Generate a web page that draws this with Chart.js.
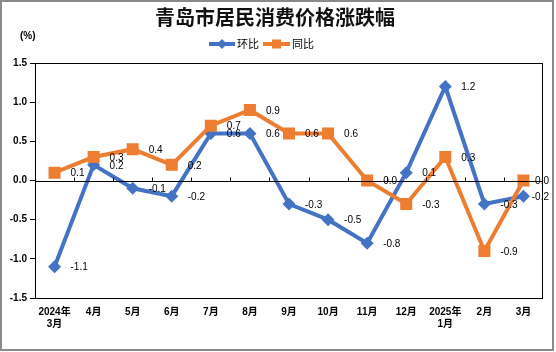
<!DOCTYPE html>
<html><head><meta charset="utf-8">
<script src="https://cdn.jsdelivr.net/npm/chart.js@4"></script>
<style>html,body{margin:0;padding:0;background:#fff}#wrap{width:556px;height:352px;position:relative}</style>
</head><body><div id="wrap"><canvas id="c" width="556" height="352"></canvas></div>
<script>
const categories = [['2024年','3月'],'4月','5月','6月','7月','8月','9月','10月','11月','12月',['2025年','1月'],'2月','3月'];
const momValues = [-1.1,0.2,-0.1,-0.2,0.6,0.6,-0.3,-0.5,-0.8,0.1,1.2,-0.3,-0.2];
const yoyValues = [0.1,0.3,0.4,0.2,0.7,0.9,0.6,0.6,0.0,-0.3,0.3,-0.9,0.0];
const yTicks = [-1.5,-1.0,-0.5,0,0.5,1.0,1.5];
const seriesNames = ['环比','同比'];
const titleText = '青岛市居民消费价格涨跌幅';
const unitText = '(%)';

const BLUE = '#4472C4', ORANGE = '#ED7D31';
const FONT = "'Liberation Sans', 'Noto Sans CJK SC', sans-serif";

const decor = {
  id: 'decor',
  beforeDraw(chart) {
    const ctx = chart.ctx;
    ctx.save();
    ctx.fillStyle = '#fff';
    ctx.fillRect(0, 0, chart.width, chart.height);
    ctx.restore();
  },
  afterDraw(chart) {
    const ctx = chart.ctx, a = chart.chartArea;
    const xs = chart.scales.x, ys = chart.scales.y;
    ctx.save();
    // plot box
    ctx.strokeStyle = '#000'; ctx.lineWidth = 1;
    ctx.strokeRect(Math.round(a.left) + 0.5, Math.round(a.top) + 0.5, Math.round(a.right - a.left) - 1, Math.round(a.bottom - a.top));
    // zero line + ticks
    const y0 = Math.round(ys.getPixelForValue(0)) + 0.5;
    ctx.beginPath();
    ctx.moveTo(a.left, y0); ctx.lineTo(a.right, y0);
    for (let i = 0; i < categories.length - 1; i++) {
      const bx = Math.round((xs.getPixelForValue(i) + xs.getPixelForValue(i + 1)) / 2) + 0.5;
      ctx.moveTo(bx, y0); ctx.lineTo(bx, y0 - 4);
    }
    ctx.stroke();
    // title
    ctx.fillStyle = '#111';
    ctx.font = "bold 20px 'Noto Sans CJK SC', sans-serif";
    ctx.textAlign = 'center'; ctx.textBaseline = 'middle';
    ctx.fillText(titleText, 275, 17);
    // unit
    ctx.font = "bold 10px " + FONT;
    ctx.textAlign = 'left';
    ctx.fillStyle = '#000';
    ctx.fillText(unitText, 20, 36);
    // legend
    const ly = 44;
    ctx.lineWidth = 4; ctx.strokeStyle = BLUE;
    ctx.beginPath(); ctx.moveTo(209, ly); ctx.lineTo(235, ly); ctx.stroke();
    ctx.fillStyle = BLUE;
    ctx.beginPath(); ctx.moveTo(222, ly - 5); ctx.lineTo(227, ly); ctx.lineTo(222, ly + 5); ctx.lineTo(217, ly); ctx.closePath(); ctx.fill();
    ctx.strokeStyle = ORANGE;
    ctx.beginPath(); ctx.moveTo(263, ly); ctx.lineTo(290, ly); ctx.stroke();
    ctx.fillStyle = ORANGE;
    ctx.fillRect(272, ly - 4.5, 9, 9);
    ctx.fillStyle = '#000';
    ctx.font = "11px 'Noto Sans CJK SC', sans-serif";
    ctx.textAlign = 'left'; ctx.textBaseline = 'middle';
    ctx.fillText(seriesNames[0], 237, ly);
    ctx.fillText(seriesNames[1], 292, ly);
    // data labels
    ctx.font = "10px " + FONT;
    chart.data.datasets.forEach((ds, di) => {
      const meta = chart.getDatasetMeta(di);
      meta.data.forEach((pt, i) => {
        const txt = ds.data[i].toFixed(1);
        const w = ctx.measureText(txt).width;
        let x = pt.x + 16;
        if (x + w > 549) x = 549 - w;
        ctx.fillText(txt, x, pt.y + 1);
      });
    });
    // outer border
    ctx.strokeStyle = '#8a8a8a'; ctx.lineWidth = 2;
    ctx.strokeRect(1, 1, 552, 349);
    ctx.restore();
  }
};

new Chart(document.getElementById('c'), {
  type: 'line',
  data: {
    labels: categories,
    datasets: [
      { label: seriesNames[0], data: momValues, borderColor: BLUE, backgroundColor: BLUE, borderWidth: 4,
        pointStyle: 'rectRot', pointRadius: 6.5, pointHoverRadius: 6.5, pointBorderWidth: 0, order: 2, tension: 0 },
      { label: seriesNames[1], data: yoyValues, borderColor: ORANGE, backgroundColor: ORANGE, borderWidth: 4,
        pointStyle: 'rect', pointRadius: 8.5, pointHoverRadius: 8.5, pointBorderWidth: 0, order: 1, tension: 0 }
    ]
  },
  options: {
    responsive: false, animation: false,
    layout: { padding: { top: 63, right: 13, bottom: 0, left: 0 } },
    plugins: { legend: { display: false }, title: { display: false }, tooltip: { enabled: false } },
    scales: {
      x: {
        offset: true,
        grid: { display: false, drawTicks: false },
        border: { display: false },
        ticks: { color: '#000', font: { family: FONT, size: 10, weight: 'bold' }, padding: 8, maxRotation: 0, autoSkip: false },
        afterFit(s) { s.height = 54; }
      },
      y: {
        min: -1.5, max: 1.5,
        afterBuildTicks(s) { s.ticks = yTicks.map(v => ({ value: v })); },
        grid: { drawOnChartArea: false, tickLength: 5, color: '#000' },
        border: { display: true, color: '#000' },
        ticks: { color: '#000', font: { family: FONT, size: 10, weight: 'bold' }, padding: 3, callback: v => Number(v).toFixed(1) },
        afterFit(s) { s.width = 35; }
      }
    }
  },
  plugins: [decor]
});
</script></body></html>
